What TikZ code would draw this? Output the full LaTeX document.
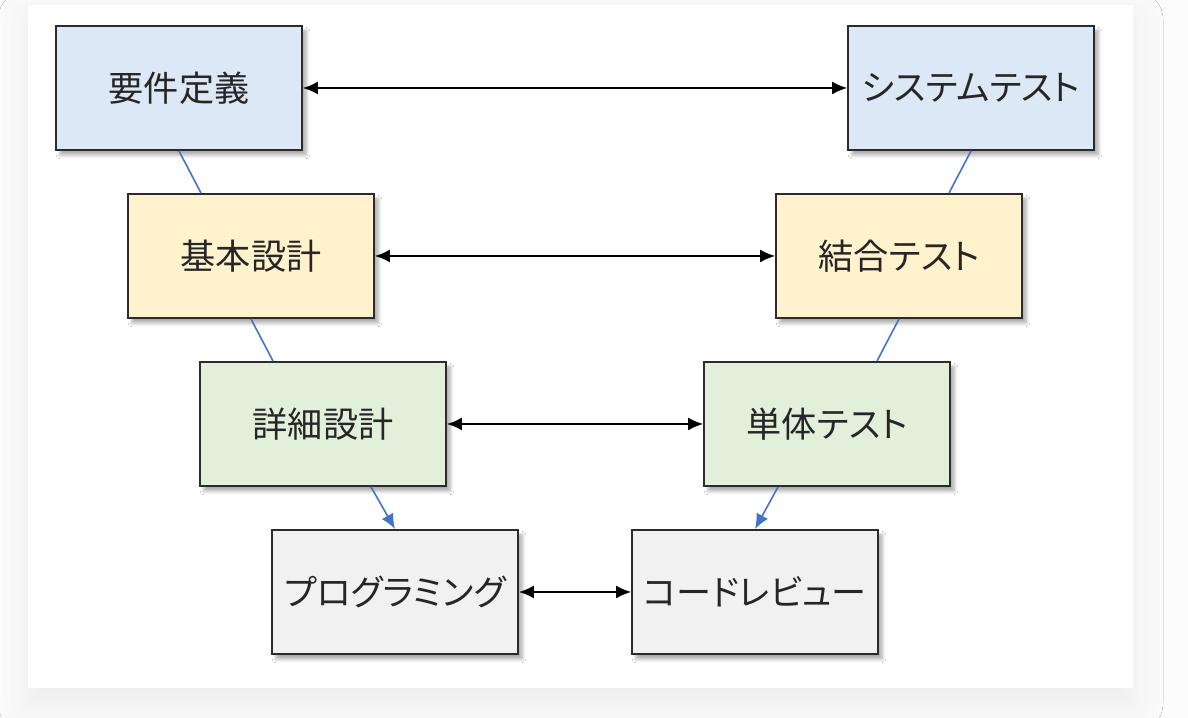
\documentclass[tikz,border=0pt]{standalone}
\usepackage{fontspec}
\setmainfont[RawFeature=+palt]{Noto Sans CJK JP}
\usetikzlibrary{arrows.meta,shadows.blur}
\definecolor{aoi}{HTML}{DCE8F5}
\definecolor{kiiro}{HTML}{FFF2CC}
\definecolor{midori}{HTML}{E2EFDA}
\definecolor{hai}{HTML}{F1F1F1}
\definecolor{sen}{HTML}{4472C4}
\definecolor{waku}{HTML}{2B2B2B}

\begin{document}
\begin{tikzpicture}[
    proc/.style={draw=waku, line width=1.1pt, minimum width=4.92cm, minimum height=2.48cm,
                 text=black!85, font=\fontsize{20}{24}\selectfont,
                 blur shadow={shadow xshift=0.08cm, shadow yshift=-0.1cm, shadow blur steps=6, shadow opacity=35}},
    pair/.style={{Latex[length=3mm,width=2.6mm]}-{Latex[length=3mm,width=2.6mm]}, line width=0.8pt, black},
    link/.style={sen, line width=0.9pt}
  ]
        % Hintergrund
        \fill[gray!3] (0,0) rectangle (23.76,14.36);
        \fill[white, blur shadow={shadow xshift=0cm, shadow yshift=-0.3cm, shadow blur radius=0.6cm, shadow blur steps=12, shadow opacity=6}]
            (0.56,0.6) rectangle (22.66,14.26);
        \useasboundingbox (0,0) rectangle (23.76,14.36);
        % Entwurf (links)
        \node[proc, fill=aoi]    (yoken)   at (3.58,12.60) {要件定義};
        \node[proc, fill=kiiro]  (kihon)   at (5.02,9.24)  {基本設計};
        \node[proc, fill=midori] (shosai)  at (6.46,5.88)  {詳細設計};
        \node[proc, fill=hai]    (prog)    at (7.90,2.52)  {プログラミング};
        % Test (rechts)
        \node[proc, fill=aoi]    (systest) at (19.42,12.60) {システムテスト};
        \node[proc, fill=kiiro]  (ketsugo) at (17.98,9.24)  {結合テスト};
        \node[proc, fill=midori] (tantai)  at (16.54,5.88)  {単体テスト};
        \node[proc, fill=hai]    (review)  at (15.10,2.52)  {コードレビュー};
        % Verbindungen
        \draw[link] (yoken.south) -- ([xshift=-1cm]kihon.north);
        \draw[link] (kihon.south) -- ([xshift=-1cm]shosai.north);
        \draw[link, -{Latex[length=3mm,width=2.6mm]}] ([xshift=0.96cm]shosai.south) -- (prog.north);
        \draw[link] (systest.south) -- ([xshift=1cm]ketsugo.north);
        \draw[link] (ketsugo.south) -- ([xshift=1cm]tantai.north);
        \draw[link, -{Latex[length=3mm,width=2.6mm]}] ([xshift=-0.98cm]tantai.south) -- (review.north);
        % Paare
        \draw[pair] (yoken.east) -- (systest.west);
        \draw[pair] (kihon.east) -- (ketsugo.west);
        \draw[pair] (shosai.east) -- (tantai.west);
        \draw[pair] (prog.east) -- (review.west);
    \end{tikzpicture}
\end{document}
